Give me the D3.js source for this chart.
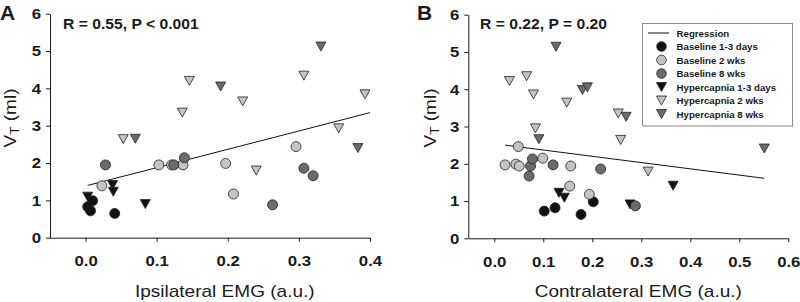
<!DOCTYPE html>
<html><head><meta charset="utf-8">
<script src="https://cdn.jsdelivr.net/npm/d3@7"></script>
<style>
body{margin:0;background:#fff}
svg{display:block}
text{font-family:Arial,"Liberation Sans",sans-serif;fill:#1a1a1a}
</style>
</head><body>
<svg id="c" width="800" height="302"></svg>
<script>
// ---------- data ----------
const ticksXA = [0, 0.1, 0.2, 0.3, 0.4];
const ticksXB = [0, 0.1, 0.2, 0.3, 0.4, 0.5, 0.6];
const ticksY = [0, 1, 2, 3, 4, 5, 6];
const groupNames = ["Baseline 1-3 days", "Baseline 2 wks", "Baseline 8 wks",
                    "Hypercapnia 1-3 days", "Hypercapnia 2 wks", "Hypercapnia 8 wks"];
const groupShapes = ["circle", "circle", "circle", "triangle", "triangle", "triangle"];
const groupFills = ["#111111", "#c4c4c4", "#6b6b6b", "#111111", "#c4c4c4", "#6b6b6b"];

// Panel A: Ipsilateral EMG vs VT  [EMG, VT]
const A_base13 = [[0.003,0.83],[0.010,0.99],[0.007,0.72],[0.041,0.65]];
const A_base2  = [[0.023,1.39],[0.103,1.95],[0.121,1.95],[0.137,1.95],[0.197,1.99],[0.208,1.17],[0.296,2.44]];
const A_base8  = [[0.028,1.95],[0.124,1.95],[0.139,2.14],[0.307,1.86],[0.320,1.66],[0.263,0.88]];
const A_hyp13  = [[0.003,1.10],[0.038,1.41],[0.039,1.23],[0.084,0.90]];
const A_hyp2   = [[0.053,2.64],[0.136,3.35],[0.146,4.20],[0.221,3.65],[0.307,4.34],[0.356,2.93],[0.393,3.84],[0.240,1.80]];
const A_hyp8   = [[0.070,2.65],[0.190,4.05],[0.331,5.12],[0.383,2.40]];
const A_regression = [[0.003,1.40],[0.400,3.35]];

// Panel B: Contralateral EMG vs VT  [EMG, VT]
const B_base13 = [[0.102,0.73],[0.124,0.82],[0.177,0.64],[0.202,0.98]];
const B_base2  = [[0.022,1.97],[0.044,1.99],[0.051,1.94],[0.099,2.15],[0.156,1.94],[0.154,1.40],[0.194,1.18],[0.049,2.46]];
const B_base8  = [[0.074,1.94],[0.078,2.13],[0.071,1.67],[0.120,1.97],[0.217,1.86],[0.288,0.87]];
const B_hyp13  = [[0.132,1.22],[0.143,1.09],[0.277,0.91],[0.365,1.41]];
const B_hyp2   = [[0.031,4.22],[0.066,4.35],[0.080,3.86],[0.084,2.95],[0.148,3.64],[0.253,3.35],[0.258,2.64],[0.314,1.79]];
const B_hyp8   = [[0.091,2.66],[0.126,5.14],[0.180,3.98],[0.190,4.05],[0.269,3.26],[0.551,2.41]];
const B_regression = [[0.022,2.50],[0.551,1.61]];

// ---------- drawing ----------
const svg = d3.select("#c");
const SX = 1.12; // horizontal text stretch
const triPath = "M-5,-4.5L5,-4.5L0,4.5Z";

function stretchText(sel, sx){
  sel.each(function(){
    const t = d3.select(this);
    const x = +t.attr("x") || 0;
    t.attr("x", x / sx).attr("transform", (t.attr("transform")||"") + ` scale(${sx},1)`);
  });
}

function drawMarker(g, shape, fill, x, y, r){
  if(shape === "circle"){
    g.append("circle").attr("cx", x).attr("cy", y).attr("r", r || 5)
      .attr("fill", fill).attr("stroke", "#222").attr("stroke-width", 0.8);
  } else {
    g.append("path").attr("d", triPath).attr("transform", `translate(${x},${y})`)
      .attr("fill", fill).attr("stroke", "#222").attr("stroke-width", 0.8);
  }
}

function panel(opt){
  const x = d3.scaleLinear().domain(opt.xDomain).range(opt.xRange);
  const y = d3.scaleLinear().domain([0, 6]).range(opt.yRange);
  const g = svg.append("g");

  // y axis
  const ya = g.append("g").attr("transform", `translate(${opt.xRange[0]},0)`)
    .call(d3.axisLeft(y).tickValues(ticksY).tickFormat(d3.format("d")).tickSize(4).tickSizeOuter(0).tickPadding(5));
  ya.selectAll("text").style("font-size", "15px").style("font-weight", "bold");
  // x axis
  const xa = g.append("g").attr("transform", `translate(0,${opt.yRange[0]})`)
    .call(d3.axisBottom(x).tickValues(opt.ticksX).tickFormat(d3.format(".1f")).tickSize(4).tickSizeOuter(0).tickPadding(14));
  xa.selectAll("text").style("font-size", "15px").style("font-weight", "bold");
  [ya, xa].forEach(a => {
    a.selectAll("path,line").attr("stroke", "#1a1a1a");
    a.selectAll("text").attr("fill", "#1a1a1a");
    stretchText(a.selectAll("text"), SX);
  });

  // regression line
  g.append("line")
    .attr("x1", x(opt.reg[0][0])).attr("y1", y(opt.reg[0][1]))
    .attr("x2", x(opt.reg[1][0])).attr("y2", y(opt.reg[1][1]))
    .attr("stroke", "#111").attr("stroke-width", 1);

  // points: triangles first, circles on top
  const order = [3, 4, 5, 0, 1, 2];
  order.forEach(i => {
    opt.series[i].forEach(d => drawMarker(g, groupShapes[i], groupFills[i], x(d[0]), y(d[1])));
  });

  // stats text
  const st = g.append("text").attr("x", opt.statX).attr("y", 29)
    .style("font-size", "14px").style("font-weight", "bold").text(opt.stat);
  stretchText(st, SX);

  // panel letter
  g.append("text").attr("x", opt.letterX).attr("y", 20)
    .style("font-size", "21px").style("font-weight", "bold").text(opt.letter);

  // x title
  const xt = g.append("text")
    .attr("transform", `translate(${(x(0) + x(opt.ticksX[opt.ticksX.length-1]))/2 - 3},297) scale(${SX},1)`)
    .attr("text-anchor", "middle").style("font-size", "17px").text(opt.xTitle);

  // y title
  const yt = g.append("text")
    .attr("transform", `translate(${opt.yTitleX},118) rotate(-90) scale(${SX},1)`)
    .attr("text-anchor", "middle").style("font-size", "17px");
  yt.append("tspan").text("V");
  yt.append("tspan").attr("dy", 3).style("font-size", "12px").text("T");
  yt.append("tspan").attr("dy", -3).text(" (ml)");
  return {x, y};
}

panel({
  xDomain: [-0.05, 0.4], xRange: [50, 370], yRange: [237.7, 13.7],
  ticksX: ticksXA, reg: A_regression,
  series: [A_base13, A_base2, A_base8, A_hyp13, A_hyp2, A_hyp8],
  stat: "R = 0.55, P < 0.001", statX: 63, letter: "A", letterX: 0,
  xTitle: "Ipsilateral EMG (a.u.)", yTitleX: 16
});
panel({
  xDomain: [-0.053, 0.6], xRange: [468.3, 788.3], yRange: [238.3, 14.7],
  ticksX: ticksXB, reg: B_regression,
  series: [B_base13, B_base2, B_base8, B_hyp13, B_hyp2, B_hyp8],
  stat: "R = 0.22, P = 0.20", statX: 480, letter: "B", letterX: 417,
  xTitle: "Contralateral EMG (a.u.)", yTitleX: 436
});

// legend
const lg = svg.append("g");
lg.append("rect").attr("x", 642.5).attr("y", 23.5).attr("width", 150).attr("height", 102.5)
  .attr("fill", "#fff").attr("stroke", "#8a8a8a").attr("stroke-width", 1);
const rowY = d3.scaleLinear().domain([0, 6]).range([33, 114]);
lg.append("line").attr("x1", 648).attr("x2", 669).attr("y1", rowY(0)).attr("y2", rowY(0))
  .attr("stroke", "#111").attr("stroke-width", 1);
lg.append("text").attr("x", 676.5).attr("y", rowY(0) + 3.5)
  .style("font-size", "9.7px").style("font-weight", "bold").text("Regression");
groupNames.forEach((name, i) => {
  drawMarker(lg, groupShapes[i], groupFills[i], 661.5, rowY(i + 1), 4.8);
  lg.append("text").attr("x", 676.5).attr("y", rowY(i + 1) + 3.5)
    .style("font-size", "9.7px").style("font-weight", "bold").text(name);
});
</script>
</body></html>
